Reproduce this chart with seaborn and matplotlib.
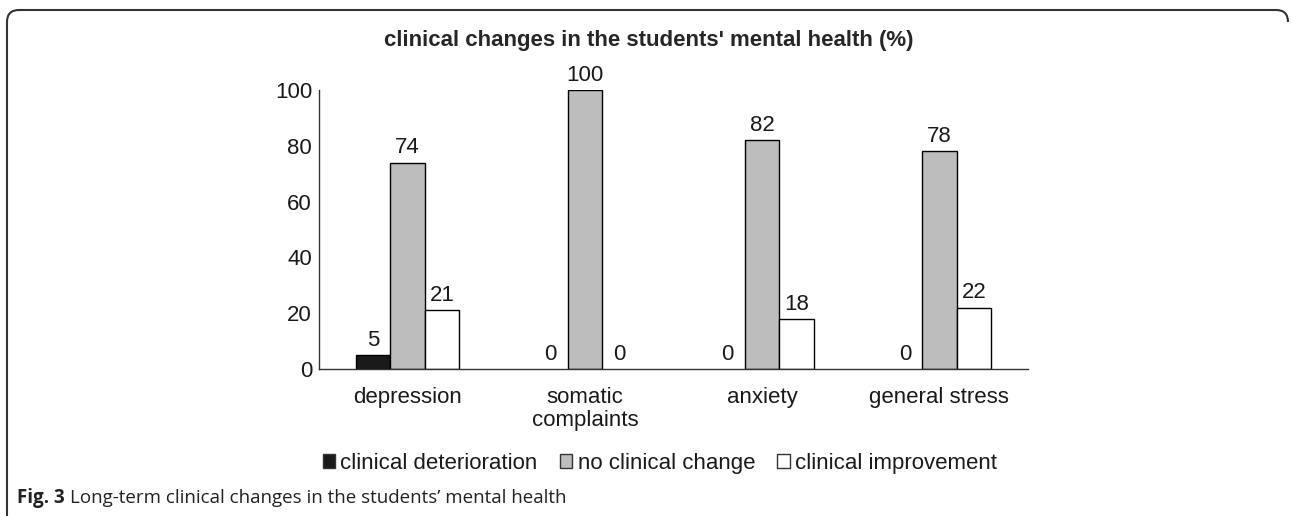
import pandas as pd
import seaborn as sns
import matplotlib.pyplot as plt
from matplotlib.patches import Patch
from matplotlib.path import Path
from matplotlib.patches import PathPatch

categories = ["depression", "somatic\ncomplaints", "anxiety", "general stress"]
series = ["clinical deterioration", "no clinical change", "clinical improvement"]
deterioration = [5, 0, 0, 0]
no_change = [74, 100, 82, 78]
improvement = [21, 0, 18, 22]
colors = ["#1a1a1a", "#bdbdbd", "#ffffff"]

df = pd.DataFrame({
    "category": categories * 3,
    "group": [s for s in series for _ in categories],
    "value": deterioration + no_change + improvement,
})

sns.set_style("white")
plt.rcParams["font.family"] = ["Liberation Sans", "DejaVu Sans"]

fig = plt.figure(figsize=(12.92, 5.16), dpi=100)
ax = fig.add_axes([0.2469, 0.2849, 0.5488, 0.5407])

sns.barplot(data=df, x="category", y="value", hue="group", hue_order=series,
            order=categories, palette=colors, width=0.585, gap=0,
            edgecolor="black", linewidth=1, ax=ax, legend=False)

# zero-height bars show no outline
for p in ax.patches:
    if p.get_height() == 0:
        p.set_linewidth(0)

for cont in ax.containers:
    ax.bar_label(cont, fmt="%g", padding=3, fontsize=16, color="#1a1a1a")

ax.set_ylim(0, 100)
ax.set_yticks([0, 20, 40, 60, 80, 100])
ax.set_xlabel("")
ax.set_ylabel("")
ax.tick_params(axis="both", length=0, labelsize=16, colors="#1a1a1a")
ax.tick_params(axis="x", pad=13)
ax.tick_params(axis="y", pad=5)
for lbl in ax.get_xticklabels():
    lbl.set_linespacing(1.15)
for s in ["top", "right"]:
    ax.spines[s].set_visible(False)
for s in ["left", "bottom"]:
    ax.spines[s].set_color("#333333")
    ax.spines[s].set_linewidth(1)

fig.text(0.502, 0.922, "clinical changes in the students' mental health (%)",
         ha="center", va="center", fontsize=16, fontweight="bold")

handles = [Patch(facecolor=c, edgecolor="#333333", linewidth=1) for c in colors]
fig.legend(handles, series, loc="center", bbox_to_anchor=(0.5108, 0.102), ncol=3,
           frameon=False, fontsize=16, handlelength=0.55, handleheight=0.55,
           handletextpad=0.25, columnspacing=1.0, labelcolor="#1a1a1a")

cap_font = ["Open Sans", "DejaVu Sans"]
t1 = fig.text(0.013, 0.035, "Fig. 3", fontsize=13.5, fontweight="bold",
              family=cap_font, color="#222222", va="center")
ax.annotate("Long-term clinical changes in the students\u2019 mental health",
            xy=(1, 0.5), xycoords=t1, xytext=(4, 0), textcoords="offset points",
            va="center", ha="left", fontsize=13.5, family=cap_font, color="#222222",
            annotation_clip=False)

# rounded frame around the figure (left and top edges only)
W, H = 1292, 516
r = 12
x0, y0, x1 = 7, H - 10, W - 4
verts = [(x0, -5), (x0, y0 - r), (x0, y0), (x0 + r, y0), (x1 - r, y0), (x1, y0), (x1, y0 - r)]
codes = [Path.MOVETO, Path.LINETO, Path.CURVE3, Path.CURVE3, Path.LINETO, Path.CURVE3, Path.CURVE3]
verts = [(vx / W, vy / H) for vx, vy in verts]
fig.patches.append(PathPatch(Path(verts, codes), transform=fig.transFigure,
                             fill=False, edgecolor="#333333", linewidth=1.5))

fig.savefig("out.png", dpi=100)
